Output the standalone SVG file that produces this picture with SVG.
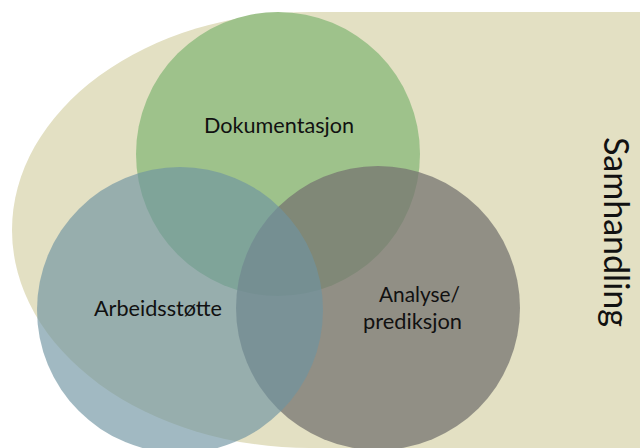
<svg xmlns="http://www.w3.org/2000/svg" width="640" height="448" viewBox="0 0 640 448">
  <style>
    .lbl { font-family: Lato, "Open Sans", "DejaVu Sans", sans-serif; font-size: 21px; fill: #111111; }
    .big { font-family: Lato, "Open Sans", "DejaVu Sans", sans-serif; font-size: 34px; fill: #111111; }
  </style>
  <rect x="0" y="0" width="640" height="448" fill="#ffffff"/>
  <g id="samhandling">
    <path d="M310 12 H640 V448 H310 A298 218 0 0 1 310 12 Z" fill="#e3e0c3"/>
    <text class="big" transform="translate(604,232) rotate(90)" text-anchor="middle" textLength="190" lengthAdjust="spacingAndGlyphs">Samhandling</text>
  </g>
  <g id="dokumentasjon">
    <circle cx="278" cy="154" r="142" fill="#9ec28b"/>
    <text class="lbl" x="204" y="133" textLength="150" lengthAdjust="spacingAndGlyphs">Dokumentasjon</text>
  </g>
  <g id="analyse">
    <circle cx="378" cy="308" r="142" fill="#757470" fill-opacity="0.75"/>
    <text class="lbl" x="379" y="302" textLength="81" lengthAdjust="spacingAndGlyphs">Analyse/</text>
    <text class="lbl" x="363" y="329" textLength="99" lengthAdjust="spacingAndGlyphs">prediksjon</text>
  </g>
  <g id="arbeidsstotte">
    <circle cx="180" cy="310" r="143" fill="#6f94a1" fill-opacity="0.65"/>
    <text class="lbl" x="94" y="316" textLength="128" lengthAdjust="spacingAndGlyphs">Arbeidsstøtte</text>
  </g>
</svg>
